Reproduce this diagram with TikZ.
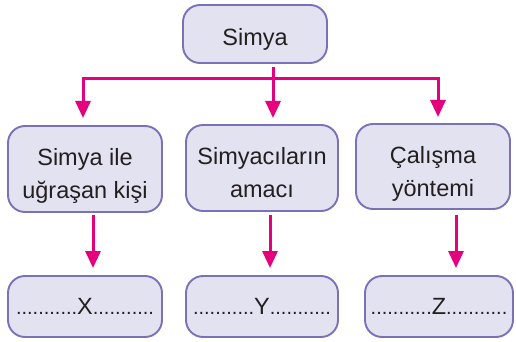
\documentclass[tikz,border=0pt]{standalone}
\usepackage{fontspec}
\setmainfont{Liberation Sans}
\usetikzlibrary{arrows.meta}
\definecolor{boxfill}{HTML}{E3E2F1}
\definecolor{boxline}{HTML}{7A72B8}
\definecolor{arrowc}{HTML}{E5007E}
\definecolor{txt}{HTML}{231F20}
\newcommand{\dts}{{\fontsize{20}{20}\selectfont ...........}}
\begin{document}
\begin{tikzpicture}[x=1pt,y=-1pt,
  box/.style={draw=boxline, fill=boxfill, line width=1.9pt, rounded corners=17pt,
    inner sep=0pt, align=center, text=txt, font=\fontsize{23.5}{33}\selectfont},
  conn/.style={draw=arrowc, line width=3pt},
  arr/.style={conn, -{Triangle[width=15pt,length=17pt]}}]
\useasboundingbox (0,0) rectangle (516,342);

% top
\node[box, minimum width=144pt, minimum height=58pt, text height=30pt, text depth=6pt] (top) at (255,34) {Simya};

% second row
\node[box, minimum width=154pt, minimum height=86pt, text height=58pt, text depth=0pt] (b1) at (85,169) {Simya ile\\uğraşan kişi};
\node[box, minimum width=152pt, minimum height=86pt, text height=58pt, text depth=0pt] (b2) at (262,168) {Simyacıların\\amacı};
\node[box, minimum width=154pt, minimum height=85pt, text height=59pt, text depth=0pt] (b3) at (433,166.5) {Çalışma\\yöntemi};

% third row
\node[box, minimum width=154pt, minimum height=61pt, text height=20pt, text depth=5pt] (c1) at (85,306.5) {\dts X\dts};
\node[box, minimum width=152pt, minimum height=61pt, text height=20pt, text depth=5pt] (c2) at (262,306.5) {\dts Y\dts};
\node[box, minimum width=148pt, minimum height=61pt, text height=20pt, text depth=5pt] (c3) at (439,306.5) {\dts Z\dts};

% connector points
\coordinate (s) at (273,67);
\coordinate (h) at (273,79);
\coordinate (e1) at (83,118);
\coordinate (e2) at (273,118);
\coordinate (e3) at (438,117);
\coordinate (f1) at (93,215);
\coordinate (g1) at (93,268);
\coordinate (f2) at (270,215);
\coordinate (g2) at (270,268);
\coordinate (f3) at (456,215);
\coordinate (g3) at (456,268);

\draw[arr] (s) -- (e2);
\draw[arr] (h) -| (e1);
\draw[arr] (h) -| (e3);
\draw[arr] (f1) -- (g1);
\draw[arr] (f2) -- (g2);
\draw[arr] (f3) -- (g3);
\end{tikzpicture}
\end{document}
